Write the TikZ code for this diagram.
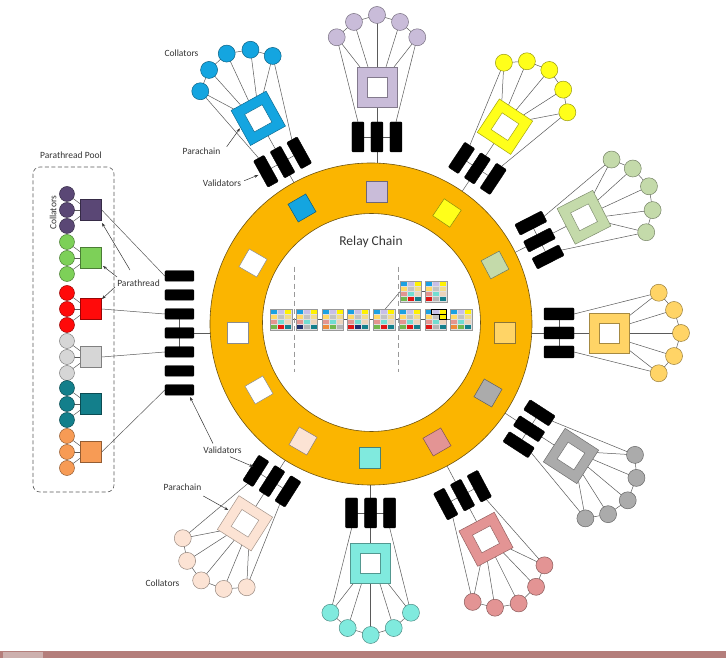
\documentclass[tikz,border=0pt]{standalone}
\usepackage{fontspec}
\setmainfont{Carlito}
\usetikzlibrary{calc,arrows.meta}
\pgfdeclarelayer{bgl}
\pgfdeclarelayer{lines}
\pgfdeclarelayer{ringl}
\pgfsetlayers{bgl,lines,ringl,main}

\definecolor{ringc}{HTML}{FBB500}
\definecolor{ringe}{HTML}{6E5410}
\definecolor{pcblue}{HTML}{14A5E0}
\definecolor{pcpurple}{HTML}{C9BCD9}
\definecolor{pcyellow}{HTML}{FFFF1A}
\definecolor{pcgreen}{HTML}{C4DAAA}
\definecolor{pclorange}{HTML}{FFD466}
\definecolor{pcgray}{HTML}{ABABAB}
\definecolor{pcsalmon}{HTML}{E39494}
\definecolor{pcteal}{HTML}{80EADE}
\definecolor{pcpeach}{HTML}{FCE3D4}
\definecolor{ptpurple}{HTML}{5A4775}
\definecolor{ptgreen}{HTML}{7DD058}
\definecolor{ptred}{HTML}{FF0A0A}
\definecolor{ptgray}{HTML}{D6D6D6}
\definecolor{ptteal}{HTML}{137F8B}
\definecolor{ptorange}{HTML}{F79B55}
\definecolor{txt}{HTML}{353535}
\definecolor{connc}{HTML}{5A5A5A}
\definecolor{stripc}{HTML}{B47E7B}
\definecolor{btnc}{HTML}{CDB0AE}
% block cell colours
\definecolor{cb}{HTML}{1BA1E2}
\definecolor{cl}{HTML}{C8BFE7}
\definecolor{cy}{HTML}{FFF200}
\definecolor{co}{HTML}{FFD966}
\definecolor{cg}{HTML}{C2C2C2}
\definecolor{cw}{HTML}{F2DC88}
\definecolor{cs}{HTML}{E39590}
\definecolor{ct}{HTML}{72DDD2}
\definecolor{cp}{HTML}{EBD3BA}
\definecolor{gr}{HTML}{72B84E}
\definecolor{rd}{HTML}{E01515}
\definecolor{tl}{HTML}{137F8B}
\definecolor{nv}{HTML}{1F2F6F}
\definecolor{og}{HTML}{F08A3A}
\definecolor{lg}{HTML}{B5B5B5}

\tikzset{
  connline/.style={draw=connc, line width=0.5pt},
  vbar/.style={fill=black, draw=black, rounded corners=1pt, minimum width=30pt, minimum height=12pt, inner sep=0pt},
  lbar/.style={fill=black, draw=black, rounded corners=1pt, minimum width=29pt, minimum height=10.5pt, inner sep=0pt},
  lbl/.style={text=txt, font=\fontsize{9.5}{11}\selectfont, inner sep=0pt},
  lblarrow/.style={draw=txt, line width=0.5pt, -{Stealth[length=4pt,width=3pt]}},
}

% parachain: #1 name, #2 X, #3 Y, #4 spoke angle, #5 collator arc angle, #6 colour
\newcommand\pchain[6]{%
  \coordinate (#1S) at (#2,#3);
  \coordinate (#1V) at ($(#1S)+(#4+180:50)$);
  \coordinate (#1Va) at ($(#1V)+(#4+90:19)$);
  \coordinate (#1Vb) at ($(#1V)+(#4-90:19)$);
  \coordinate (#1c1) at ($(#1S)+(#5+39:64)$);
  \coordinate (#1c2) at ($(#1S)+(#5+19.5:69)$);
  \coordinate (#1c3) at ($(#1S)+(#5:72)$);
  \coordinate (#1c4) at ($(#1S)+(#5-19.5:69)$);
  \coordinate (#1c5) at ($(#1S)+(#5-39:64)$);
  \begin{pgfonlayer}{lines}
    \draw[connline] (#1c1)--(#1c2)--(#1c3)--(#1c4)--(#1c5);
    \draw[connline] (#1c1) -- ($(#1S)+(#4:20)+(#4+90:17)$);
    \draw[connline] (#1c2) -- ($(#1S)+(#4:20)+(#4+90:9)$);
    \draw[connline] (#1c3) -- ($(#1S)+(#4:20)$);
    \draw[connline] (#1c4) -- ($(#1S)+(#4:20)+(#4-90:9)$);
    \draw[connline] (#1c5) -- ($(#1S)+(#4:20)+(#4-90:17)$);
    \draw[connline] (#1c1) -- ($(#1Va)+(#4:15)$);
    \draw[connline] (#1c5) -- ($(#1Vb)+(#4:15)$);
    \draw[connline] (#1Va) -- (#1Vb);
    \draw[connline] (#1S) -- ($(#1V)+(#4+180:45)$);
  \end{pgfonlayer}
  \node[vbar, rotate=#4] (#1va) at (#1Va) {};
  \node[vbar, rotate=#4] (#1vm) at (#1V) {};
  \node[vbar, rotate=#4] (#1vb) at (#1Vb) {};
  \node[draw=#6!65!black, fill=#6, minimum size=40pt, inner sep=0pt, rotate=#4, line width=0.5pt] (#1sq) at (#1S) {};
  \node[draw=#6!65!black, fill=white, minimum size=20pt, inner sep=0pt, rotate=#4, line width=0.5pt] (#1in) at (#1S) {};
  \foreach \k in {1,...,5}{
    \node[circle, draw=#6!60!black, fill=#6, minimum size=17pt, inner sep=0pt, line width=0.5pt] (#1n\k) at (#1c\k) {};
  }
}

% relay-chain block: #1 name, #2 X, #3 Y, #4 twelve colours
\newcommand\rblk[4]{%
  \node[minimum width=21pt, minimum height=20pt, inner sep=0pt] (#1) at (#2,#3) {};
  \foreach \cc [count=\i from 0] in {#4}{
    \pgfmathtruncatemacro\rr{floor(\i/3)}
    \pgfmathtruncatemacro\cl{mod(\i,3)}
    \filldraw[fill=\cc, draw=gray!25, line width=0.2pt] ($(#1.north west)+(7*\cl,-5*\rr)$) rectangle ++(7,-5);
  }
  \draw[draw=gray!80, line width=0.3pt] (#1.north west) rectangle (#1.south east);
}

\begin{document}
\begin{tikzpicture}[x=1pt,y=1pt]
\useasboundingbox (-372,-331) rectangle (354,327);
\begin{pgfonlayer}{bgl}
  \fill[white] (-372,-331) rectangle (354,327);
  \fill[stripc] (-372,-331) rectangle (354,-324);
  \fill[btnc] (-369,-331) rectangle (-329,-325.5);
\end{pgfonlayer}

% ---- ring ----
\begin{pgfonlayer}{ringl}
  \fill[ringc, even odd rule] (-1,3) circle (161) (-0.5,4.5) circle (109);
  \draw[ringe, line width=0.6pt] (-1,3) circle (161);
  \draw[ringe, line width=0.6pt] (-0.5,4.5) circle (109);
\end{pgfonlayer}

\foreach \x/\y/\r/\c [count=\i] in {-70/119/120/pcblue, 5/135/90/pcpurple, 75/114/56/pcyellow, 123/62/28/pcgreen, 133/-6/0/pclorange, 116/-66/-30/pcgray, 65/-115/-60/pcsalmon, -2/-131/-90/pcteal, -69/-114/-120/pcpeach, -113/-63/-150/white, -134.3/-6/0/white, -119/64/150/white}{
  \node[draw=\c!55!black, fill=\c, minimum size=20.5pt, inner sep=0pt, rotate=\r, line width=0.5pt] (rs\i) at (\x,\y) {};
}

\node[text=txt, font=\fontsize{13.5}{15}\selectfont, inner sep=0pt] (rctitle) at (-1,85) {Relay Chain};

% ---- parachains ----
\pchain{blue}{-113.7}{208.7}{119}{116}{pcblue}
\pchain{purple}{5}{240}{90}{90}{pcpurple}
\pchain{yellow}{133}{200.3}{56.5}{52}{pcyellow}
\pchain{green}{212}{109.7}{27}{25.5}{pcgreen}
\pchain{lorange}{237}{-6}{0}{0}{pclorange}
\pchain{gray}{199}{-129}{-33}{-38}{pcgray}
\pchain{salmon}{114}{-212.3}{-62}{-63}{pcsalmon}
\pchain{teal}{-1.3}{-236}{-90}{-90}{pcteal}
\pchain{peach}{-127}{-196.3}{-122.5}{-127.5}{pcpeach}

% ---- relay chain blocks ----
\begin{pgfonlayer}{lines}
  \draw[connline] (-90.8,7.7) -- (89.1,7.7);
  \draw[connline] (38.5,35.3) -- (64.2,35.3);
  \draw[connline] (13,17.7) -- (28,35.3);
\end{pgfonlayer}
\draw[draw=gray!80, line width=0.8pt, dash pattern=on 5pt off 3.5pt] (-77.5,60.3) -- (-77.5,-44.7);
\draw[draw=gray!80, line width=0.8pt, dash pattern=on 5pt off 3.5pt] (26,60.3) -- (26,-44.7);
\rblk{b1}{-90.8}{7.3}{cb,cl,cy,co,cg,cw,cs,ct,cp,gr,rd,tl}
\rblk{b2}{-65.1}{7.3}{cb,cl,cy,co,cg,cw,cs,ct,cp,nv,lg,tl}
\rblk{b3}{-39.4}{7.3}{cb,cl,cy,co,cg,cw,cs,ct,cp,og,gr,lg}
\rblk{b4}{-13.7}{7.3}{cb,cl,cy,co,cg,cw,cs,ct,cp,rd,nv,tl}
\rblk{b5}{12}{7.3}{cb,cl,cy,co,cg,cw,cs,ct,cp,gr,rd,tl}
\rblk{b6}{37.7}{7.3}{cb,cl,cy,co,cg,cw,cs,ct,cp,gr,rd,tl}
\rblk{b7}{63.4}{7.3}{cb,cl,cy,co,cg,cy,cs,ct,cp,rd,lg,tl}
\rblk{b8}{89.1}{7.3}{cb,cl,cy,co,cg,cw,cs,ct,cp,og,gr,tl}
\rblk{f1}{38.5}{35.3}{cb,cl,cy,co,cg,cw,cs,ct,cp,gr,rd,tl}
\rblk{f2}{64.2}{35.3}{cb,cl,cy,co,cg,cw,cs,ct,cp,rd,lg,tl}
\draw[black, line width=0.7pt] ($(b7.north west)+(7,0)$) rectangle ($(b7.north east)+(0,-5)$);
\draw[black, line width=0.7pt] ($(b7.north east)+(-7,-5)$) rectangle ($(b7.north east)+(0,-10)$);

% ---- left validator column ----
\foreach \y [count=\i] in {51,32,13,-6,-25,-44,-63}{
  \node[lbar] (L\i) at (-192.5,\y) {};
}
\begin{pgfonlayer}{lines}
  \draw[connline] (L3.center) -- (L5.center);
  \draw[connline] (L4.east) -- (-150,-6);
\end{pgfonlayer}

% ---- parathread pool ----
\draw[draw=connc, line width=0.6pt, dash pattern=on 4pt off 2.5pt, rounded corners=7pt] (-339,160) rectangle (-258,-165);
\node[lbl] (pooltitle) at (-301,172) {Parathread Pool};
\foreach \y/\c [count=\i] in {117/ptpurple, 69/ptgreen, 18/ptred, -30/ptgray, -77/ptteal, -125/ptorange}{
  \node[draw=\c!60!black, fill=\c, minimum size=21pt, inner sep=0pt, line width=0.5pt] (pt\i) at (-281,\y) {};
  \foreach \d [count=\j] in {16,0,-16}{
    \node[circle, draw=\c!60!black, fill=\c, minimum size=15pt, inner sep=0pt, line width=0.5pt] (pt\i c\j) at (-305,\y+\d) {};
  }
  \begin{pgfonlayer}{lines}
    \draw[connline] (-305,\y+16) -- (-291.5,\y+6);
    \draw[connline] (-305,\y) -- (-291.5,\y);
    \draw[connline] (-305,\y-16) -- (-291.5,\y-6);
  \end{pgfonlayer}
}
\begin{pgfonlayer}{lines}
  \draw[connline] (pt1.east) -- (L1.west);
  \draw[connline] (pt3.east) -- (L3.west);
  \draw[connline] (pt4.east) -- (L5.west);
  \draw[connline] (pt6.east) -- (L7.west);
\end{pgfonlayer}
\node[lbl, rotate=90] (poolcoll) at (-319,114) {Collators};
\node[lbl] (ptlabel) at (-233.5,44) {Parathread};
\coordinate (pa1) at (-242,57);
\coordinate (pa2) at (-255,50);
\coordinate (pa3) at (-257,40);
\coordinate (pt1tip) at (-270,104);
\coordinate (pt2tip) at (-269,61);
\coordinate (pt3tip) at (-270,28);
\draw[lblarrow] (pa1) -- (pt1tip);
\draw[lblarrow] (pa2) -- (pt2tip);
\draw[lblarrow] (pa3) -- (pt3tip);

% ---- labels around ----
\node[lbl] (collA) at (-190.5,274) {Collators};
\node[lbl] (parA) at (-170.5,176) {Parachain};
\node[lbl] (valA) at (-150,144) {Validators};
\coordinate (parAs) at (-145.3,180.3);
\coordinate (parAt) at (-132,198.7);
\coordinate (valAs) at (-127.7,146.3);
\coordinate (valAt) at (-113.7,152);
\draw[lblarrow] (parAs) -- (parAt);
\draw[lblarrow] (valAs) -- (valAt);

\node[lbl] (valB) at (-149.5,-123) {Validators};
\node[lbl] (parB) at (-189.5,-160) {Parachain};
\node[lbl] (collB) at (-209.5,-256) {Collators};
\coordinate (valBs) at (-142,-129.7);
\coordinate (valBt) at (-118.7,-139.7);
\coordinate (valBs2) at (-159,-116.5);
\coordinate (valBt2) at (-182,-70);
\coordinate (parBs) at (-168.7,-169);
\coordinate (parBt) at (-143.7,-183);
\draw[lblarrow] (valBs) -- (valBt);
\draw[lblarrow] (valBs2) -- (valBt2);
\draw[lblarrow] (parBs) -- (parBt);
\end{tikzpicture}
\end{document}
